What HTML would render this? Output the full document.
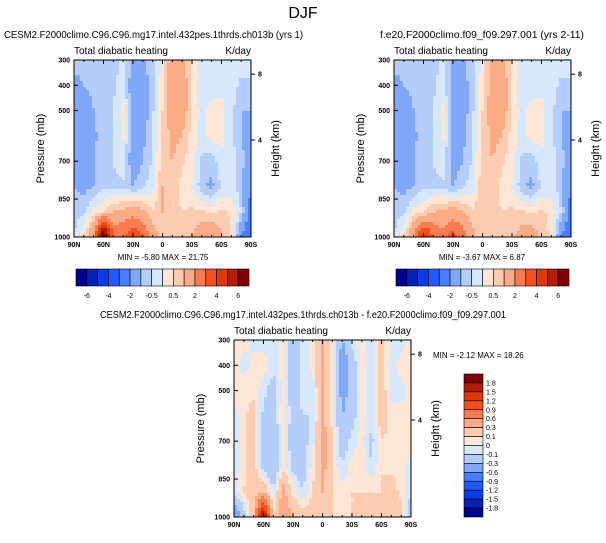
<!DOCTYPE html>
<html><head><meta charset="utf-8"><style>
body{margin:0;background:#fff;width:606px;height:538px;overflow:hidden;font-family:"Liberation Sans",Arial,sans-serif}
svg text{font-family:"Liberation Sans",Arial,sans-serif}
</style></head><body>
<svg id="chart" width="606" height="538" viewBox="0 0 606 538" xmlns="http://www.w3.org/2000/svg">
<text x="303" y="18" font-size="16" text-anchor="middle">DJF</text>
</svg>
<script>
const latLabels=["90N","60N","30N","0","30S","60S","90S"];
const pressureTicks=[300,400,500,700,850,1000];
const heightTicks=[4,8];
const fieldLevels=[300,400,500,600,700,800,900,1000];
const absLevels=[-6,-5,-4,-3,-2,-1,-0.5,0,0.5,1,2,3,4,5,6];
const absLabels=["-6","-4","-2","-0.5","0.5","2","4","6"];
const diffLevels=[-1.8,-1.5,-1.2,-0.9,-0.6,-0.3,-0.1,0,0.1,0.3,0.6,0.9,1.2,1.5,1.8];
const palette=["#00008c","#0520b4","#0a3ce6","#1e5aff","#4a7df7","#80a8fa","#b4cdfb","#d8e8fc","#fde6d6","#fccbb0","#fbaa86","#f77c52","#f4501e","#dc3a0a","#b21e05","#800000"];
const fieldA=[
[-0.9,-0.9,-0.9,-0.9,-0.8,-0.3,-1.2,-1.2,-0.6,0.2,1.5,1.2,0.3,-0.3,-0.3,-0.3,-0.3,-0.3,-0.3],
[-1.1,-1.0,-0.9,-0.8,-0.6,-0.2,-1.5,-1.5,-0.6,0.3,1.5,1.5,0.5,-0.3,-0.3,-0.2,-0.3,-0.6,-0.6],
[-1.5,-1.3,-1.0,-0.8,-0.5,0.2,-1.5,-1.5,-0.6,0.5,1.5,1.5,0.4,-0.2,0.2,0.2,-0.3,-1.0,-1.0],
[-1.5,-1.4,-1.1,-0.8,-0.5,0.1,-1.5,-1.2,-0.5,0.6,1.2,1.0,0.3,-0.2,0.2,0.2,-0.3,-1.0,-1.2],
[-1.2,-1.2,-1.0,-0.8,-0.5,-0.2,-1.5,-1.0,-0.4,0.8,1.0,0.6,0.2,-0.6,-0.8,-0.2,-0.3,-0.8,-1.5],
[-1.0,-1.2,-1.0,-0.6,-0.6,-0.6,-1.0,-0.6,-0.2,1.0,0.8,0.3,0.0,-0.8,-1.2,-0.4,-0.3,-0.8,-2],
[-0.8,-0.6,0.2,0.5,1.0,1.2,1.5,1.2,0.5,1.0,0.6,0.5,0.6,0.6,0.4,0.6,0.4,-0.5,-2.5],
[-0.5,0.5,2.0,8,3,3,4,3,1.5,0.5,0.6,0.6,1,1.5,2,1,0.5,-2,-3]];
const fieldB=[
[-0.9,-0.9,-0.9,-0.9,-0.8,-0.3,-1.2,-1.2,-0.6,0.2,1.5,1.2,0.3,-0.3,-0.3,-0.3,-0.3,-0.3,-0.3],
[-1.1,-1.0,-0.9,-0.8,-0.6,-0.2,-1.4,-1.4,-0.6,0.3,1.4,1.5,0.5,-0.3,-0.3,-0.2,-0.3,-0.6,-0.6],
[-1.5,-1.3,-1.0,-0.8,-0.5,0.2,-1.4,-1.4,-0.6,0.5,1.4,1.5,0.4,-0.2,0.2,0.2,-0.3,-1.0,-1.0],
[-1.5,-1.4,-1.1,-0.8,-0.5,0.1,-1.4,-1.2,-0.5,0.6,1.2,1.0,0.3,-0.2,0.2,0.2,-0.3,-1.0,-1.2],
[-1.2,-1.2,-1.0,-0.8,-0.5,-0.2,-1.4,-1.0,-0.4,0.7,1.0,0.6,0.2,-0.6,-0.8,-0.2,-0.3,-0.8,-1.5],
[-1.0,-1.2,-1.0,-0.6,-0.6,-0.6,-1.0,-0.6,-0.2,0.9,0.8,0.3,0.0,-0.8,-1.2,-0.4,-0.3,-0.8,-2],
[-0.8,-0.6,0.2,0.4,1.0,1.1,1.4,1.1,0.5,1.0,0.6,0.5,0.6,0.6,0.4,0.6,0.3,-0.5,-2.5],
[-0.5,0.5,2.0,5,3,2.5,3.5,2.5,1.3,0.5,0.6,0.6,0.9,1.3,1.5,0.9,0.4,-2,-3]];
const fieldDiff=[
[0.05,0.05,-0.05,-0.05,-0.05,0.05,-0.2,-0.05,0.05,0.3,0.05,-0.3,-0.05,0.05,-0.05,0.2,-0.05,-0.05,0.05],
[0.05,-0.05,0.05,0.05,-0.05,0.05,-0.2,-0.05,0.05,0.4,0.05,-0.5,-0.2,0.05,-0.05,0.2,-0.05,0.05,0.05],
[0.05,0.05,0.05,-0.05,-0.2,0.05,-0.2,-0.05,-0.1,0.4,0.05,-0.4,-0.2,0.05,-0.05,0.2,-0.05,-0.05,0.05],
[-0.05,0.05,0.2,-0.15,-0.2,0.1,-0.2,-0.1,-0.1,0.4,0.05,-0.3,-0.2,0.05,-0.05,0.2,0.05,0.05,0.05],
[-0.05,0.05,0.2,-0.2,-0.3,0.05,-0.2,-0.15,-0.05,0.4,0.1,-0.2,-0.05,0.05,-0.15,0.1,0.05,0.05,0.05],
[-0.05,0.05,0.2,-0.2,-0.3,0.05,-0.15,-0.2,0.05,0.4,0.1,-0.1,0.05,0.05,-0.1,0.1,0.05,0.05,-0.05],
[-0.05,0.1,0.2,0.3,-0.1,0.4,0.05,-0.1,0.1,0.3,0.1,0.05,0.1,0.1,0.1,0.1,0.2,0.05,-0.05],
[-0.6,-0.2,0.3,2.0,0.1,0.5,0.3,0.2,0.2,0.2,0.1,0.1,0.1,0.1,0.2,0.1,0.3,0.2,-0.3]];

const NS="http://www.w3.org/2000/svg";
const svg=document.getElementById('chart');
function mk(tag,attrs,parent){const e=document.createElementNS(NS,tag);for(const k in attrs)e.setAttribute(k,attrs[k]);(parent||svg).appendChild(e);return e;}
function txt(x,y,s,size,anchor,parent,extra){const t=mk('text',Object.assign({x:x,y:y,'font-size':size,'text-anchor':anchor||'start'},extra||{}),parent);t.textContent=s;return t;}
function colorFor(v,levels){let i=0;while(i<levels.length&&v>=levels[i])i++;return palette[i];}
function sample(f,lat,p){
  let r=(p-300)/100; r=Math.max(0,Math.min(7,r)); let c=Math.max(0,Math.min(18,lat));
  const r0=Math.min(6,Math.floor(r)),c0=Math.min(17,Math.floor(c));const fr=r-r0,fc=c-c0;
  return f[r0][c0]*(1-fr)*(1-fc)+f[r0][c0+1]*(1-fr)*fc+f[r0+1][c0]*fr*(1-fc)+f[r0+1][c0+1]*fr*fc;
}
function heightToP(z){return 1013.25*Math.pow(1-2.2558e-5*z*1000,5.2559);}

function panel(opt){
  const g=mk('g',{});
  
  
  const X0=opt.x,Y0=opt.y,W=177,H=177;
  const xs=lat=>X0+lat/180*W;
  const ys=p=>Y0+(p-300)/700*H;
  const cell=3;
  const fg=mk('g',{'shape-rendering':'crispEdges'},g);
  
  
  for(let py=0;py<H;py+=cell){for(let px=0;px<W;px+=cell){
    const lat=(px+cell/2)/W*18, p=300+(py+cell/2)/H*700;
    const v=sample(opt.field,lat,p);
    const r=mk('rect',{x:X0+px,y:Y0+py,width:Math.min(cell,W-px),height:Math.min(cell,H-py),fill:colorFor(v,opt.levels)},fg);
    
    
  }}
  const fr=mk('rect',{x:X0,y:Y0,width:W,height:H,fill:'none',stroke:'#000','stroke-width':1},g);
  
  
  latLabels.forEach((l,i)=>{const x=xs(i*30);
    mk('line',{x1:x,y1:Y0+H,x2:x,y2:Y0+H-4,stroke:'#000'},g);mk('line',{x1:x,y1:Y0,x2:x,y2:Y0+4,stroke:'#000'},g);
    const t=txt(x,Y0+H+10,l,7,'middle',g,{'font-weight':'bold'});
    
    
    if(i<6)for(let k=1;k<3;k++){const xm=xs(i*30+k*10);mk('line',{x1:xm,y1:Y0+H,x2:xm,y2:Y0+H-2,stroke:'#000'},g);mk('line',{x1:xm,y1:Y0,x2:xm,y2:Y0+2,stroke:'#000'},g);}
  });
  pressureTicks.forEach(p=>{const y=ys(p);mk('line',{x1:X0,y1:y,x2:X0+4,y2:y,stroke:'#000'},g);
    const t=txt(X0-4,y+2.5,String(p),7,'end',g,{'font-weight':'bold'});
    
    });
  heightTicks.forEach(z=>{const y=ys(heightToP(z));mk('line',{x1:X0+W,y1:y,x2:X0+W+4,y2:y,stroke:'#000'},g);
    const t=txt(X0+W+7,y+2.5,String(z),7,'start',g,{'font-weight':'bold'});
    
    });
  let t=txt(X0-30,Y0+H/2,'Pressure (mb)',11,'middle',g,{transform:`rotate(-90 ${X0-30} ${Y0+H/2})`});
  
  
  t=txt(X0+W+28,Y0+H/2,'Height (km)',11,'middle',g,{transform:`rotate(-90 ${X0+W+28} ${Y0+H/2})`});
  
  
  t=txt(X0,Y0-6,'Total diabatic heating',10,'start',g);
  
  
  t=txt(X0+W,Y0-6,'K/day',10,'end',g);
  
  
  t=txt(opt.tx,Y0-22,opt.title,10,'start',g,{textLength:opt.tl,lengthAdjust:'spacingAndGlyphs'});
  
  
  t=txt(opt.mx,opt.my,opt.minmax,8,opt.ma,g);
  
  
}
panel({name:'panel-test',x:74,y:60,field:fieldA,levels:absLevels,title:'CESM2.F2000climo.C96.C96.mg17.intel.432pes.1thrds.ch013b (yrs 1)',tx:4,tl:299,minmax:'MIN =  -5.80  MAX =  21.75',mx:163,my:260,ma:'middle'});
panel({name:'panel-control',x:394,y:60,field:fieldB,levels:absLevels,title:'f.e20.F2000climo.f09_f09.297.001 (yrs 2-11)',tx:380,tl:204,minmax:'MIN =  -3.67  MAX =  6.87',mx:482,my:260,ma:'middle'});
panel({name:'panel-difference',x:234,y:340,field:fieldDiff,levels:diffLevels,title:'CESM2.F2000climo.C96.C96.mg17.intel.432pes.1thrds.ch013b - f.e20.F2000climo.f09_f09.297.001',tx:100,tl:406,minmax:'MIN =  -2.12  MAX =  18.26',mx:433,my:358,ma:'start'});

function hbar(x0,name){const g=mk('g',{});
  const w=173/16;
  palette.forEach((c,i)=>{const r=mk('rect',{x:x0+i*w,y:269,width:w,height:17,fill:c,stroke:'#000','stroke-width':0.6},g);
    });
  absLabels.forEach((l,j)=>{const t=txt(x0+(2*j+1)*w,298,l,7,'middle',g);});
}
hbar(76,'colorbar-test');hbar(396,'colorbar-control');
(function(){const g=mk('g',{});
  const h=143/16;
  palette.slice().reverse().forEach((c,i)=>{const r=mk('rect',{x:464,y:374+i*h,width:19,height:h,fill:c,stroke:'#000','stroke-width':0.6},g);
    });
  diffLevels.slice().reverse().forEach((l,i)=>{const t=txt(486,374+(i+1)*h+2.5,String(l),7,'start',g);});
})();
</script>
</body></html>
